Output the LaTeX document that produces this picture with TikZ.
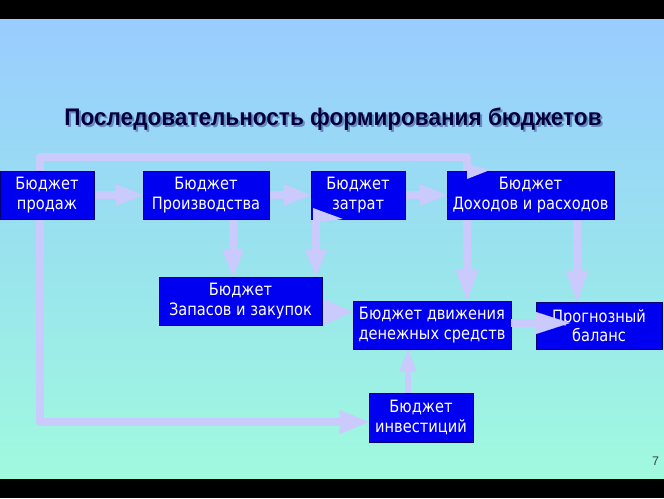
\documentclass[tikz,border=0pt]{standalone}
\usepackage{fontspec}
\setmainfont{Liberation Sans}
\newfontfamily\boxfont[FakeStretch=0.86]{DejaVu Sans}
\newfontfamily\titlefont[FakeStretch=0.94]{Liberation Sans}
\usetikzlibrary{arrows.meta}
\pgfdeclarelayer{back}
\pgfdeclarelayer{links}
\pgfsetlayers{back,links,main}
\definecolor{lav}{RGB}{202,202,252}
\definecolor{boxblue}{RGB}{0,0,240}
\definecolor{boxline}{RGB}{0,0,110}
\definecolor{titlecol}{RGB}{0,0,60}
\definecolor{shadowcol}{RGB}{60,80,150}
\definecolor{bgtop}{RGB}{153,204,255}
\definecolor{bgmid}{RGB}{153,226,238}
\definecolor{bgbot}{RGB}{160,250,222}
\begin{document}
\begin{tikzpicture}[x=1pt,y=-1pt,
  budget/.style={draw=boxline, line width=0.8pt, fill=boxblue, text=white,
    font=\boxfont\fontsize{17}{19.5}\selectfont, align=center, inner sep=0pt},
  shaft/.style={draw=lav, line width=8pt},
  conn/.style={shaft, -{Triangle[length=27pt,width=22pt,line width=0.1pt]}},
  glitch/.style={fill=lav},
  titletext/.style={font=\titlefont\bfseries\fontsize{24}{28}\selectfont}]
% background
\useasboundingbox (0,0) rectangle (664,498);
\begin{pgfonlayer}{back}
\fill[black] (0,0) rectangle (664,19);
\fill[black] (0,478) rectangle (664,498);
\shade[top color=bgtop, bottom color=bgbot, middle color=bgmid] (0,19) rectangle (664,478);
\end{pgfonlayer}
% title
\node[text=shadowcol, opacity=0.55, titletext] (titleshadow) at (335,121) {Последовательность формирования бюджетов};
\node[text=titlecol, titletext] (title) at (333,119) {Последовательность формирования бюджетов};
% nodes
\node[budget, minimum width=94pt, minimum height=48pt] (sales) at (47,195) {Бюджет\\продаж};
\node[budget, minimum width=126pt, minimum height=48pt] (prod) at (206,195) {Бюджет\\Производства};
\node[budget, minimum width=94pt, minimum height=48pt] (cost) at (358,195) {Бюджет\\затрат};
\node[budget, minimum width=167pt, minimum height=48pt] (inc) at (530.5,195) {Бюджет\\Доходов и расходов};
\node[budget, minimum width=163pt, minimum height=48pt] (stock) at (240.5,301) {Бюджет\\Запасов и закупок};
\node[budget, minimum width=158pt, minimum height=48pt] (cash) at (432,325) {Бюджет движения\\денежных средств};
\node[budget, minimum width=126pt, minimum height=47pt] (bal) at (599,325.5) {Прогнозный\\баланс};
\node[budget, minimum width=104pt, minimum height=49pt] (inv) at (421,417.5) {Бюджет\\инвестиций};
% page number
\node[text=black!75, font=\fontsize{12.5}{14}\selectfont] (pagenum) at (655.5,461.5) {7};
% helper coordinates
\coordinate (tl1) at (40,157);
\coordinate (tl2) at (467,157);
\coordinate (bl) at (40,422);
\coordinate (xcs) at (316,0);
\coordinate (xps) at (233,0);
\coordinate (xic) at (467,0);
\coordinate (xib) at (577,0);
\coordinate (xinv) at (408,0);
\coordinate (ysc) at (0,312);
\coordinate (ycb) at (0,323);
\coordinate (ctip) at (570,323);
% connectors behind boxes
\begin{pgfonlayer}{links}
\draw[conn] (sales.east) -- (prod.west);
\draw[conn] (prod.east) -- (cost.west);
\draw[conn] (cost.east) -- (inc.west);
\draw[shaft, line join=round] (sales.north -| tl1) -- (tl1) -- (tl2) -- (inc.north -| tl2);
\draw[conn] (cost.south -| xcs) -- (stock.north -| xcs);
\draw[conn] (prod.south -| xps) -- (stock.north -| xps);
\draw[conn, -{Triangle[length=31pt,width=23pt,line width=0.1pt]}] (inc.south -| xic) -- (cash.north -| xic);
\draw[conn, -{Triangle[length=31pt,width=23pt,line width=0.1pt]}] (inc.south -| xib) -- (bal.north -| xib);
\draw[conn, -{Triangle[length=30pt,width=27pt,line width=0.1pt]}] (stock.east |- ysc) -- (cash.west |- ysc);
\draw[shaft, line join=round, -{Triangle[length=29pt,width=24pt,line width=0.1pt]}] (sales.south -| bl) -- (bl) -- (inv.west |- bl);
\draw[shaft, line width=6pt, -{Triangle[length=22pt,width=17pt,line width=0.1pt]}] (inv.north -| xinv) -- (cash.south -| xinv);
\end{pgfonlayer}
% connectors drawn over boxes
\draw[shaft, -{Triangle[length=34pt,width=22pt,line width=0.1pt]}] (cash.east |- ycb) -- (ctip);
\fill[glitch] (467,164) -- (490,170) -- (467,179) -- cycle;
\fill[glitch] (313,208) -- (343,219) -- (313,223) -- cycle;
\end{tikzpicture}
\end{document}
